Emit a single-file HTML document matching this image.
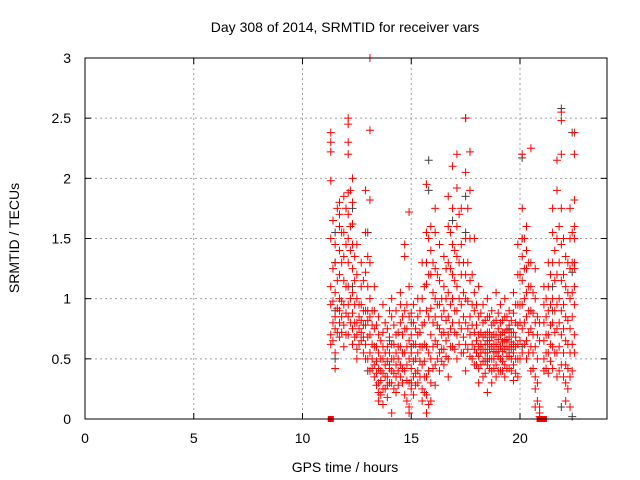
<!DOCTYPE html>
<html><head><meta charset="utf-8"><style>
body{margin:0;background:#fff}
svg{display:block;font-family:"Liberation Sans",sans-serif}
</style></head><body>
<svg id="chart" width="640" height="480" viewBox="0 0 640 480" xmlns="http://www.w3.org/2000/svg">
<rect width="640" height="480" fill="#fff"/>
<text x="345" y="32" font-size="14" text-anchor="middle">Day 308 of 2014, SRMTID for receiver vars</text>
<text transform="translate(19,238) rotate(-90)" font-size="14" text-anchor="middle">SRMTID / TECUs</text>
<text x="345" y="472" font-size="14" text-anchor="middle">GPS time / hours</text>
<g id="grid"></g>
<g id="ticks"></g>
<g id="marks"></g>
<rect x="85" y="58" width="522" height="361" fill="none" stroke="#000" stroke-width="1"/>
</svg>
<script>
const xTicks=[0,5,10,15,20];
const yTicks=[0,0.5,1,1.5,2,2.5,3];
const yTickLabels=["0","0.5","1","1.5","2","2.5","3"];
const redTimes=[11.3,11.5,11.7,11.9,12.1,12.3,12.5,12.7,12.9,13.1,13.3,13.5,13.7,13.9,14.1,14.3,14.5,14.7,14.9,15.1,15.3,15.5,15.7,15.9,16.1,16.3,16.5,16.7,16.9,17.1,17.3,17.5,17.7,17.9,18.1,18.3,18.5,18.7,18.9,19.1,19.3,19.5,19.7,19.9,20.1,20.3,20.5,20.7,20.9,21.1,21.3,21.5,21.7,21.9,22.1,22.3,22.5];
const redValues=[
[2.38,2.3,2.22,1.98,1.5,1.1,0.95,0.7,0.62],
[1.45,1.3,1.05,0.85,0.75,0.55,0.42],
[1.8,1.7,1.6,1.4,1.2,1.0,0.9,0.8,0.68],
[1.85,1.55,1.35,1.15,0.95,0.78,0.6],
[2.5,2.45,2.3,2.2,1.88,1.7,1.5,1.3,1.1,0.95,0.85,0.7],
[2.0,1.8,1.62,1.45,1.25,1.05,0.88,0.75,0.62],
[1.45,1.2,1.0,0.8,0.7,0.58,0.5],
[1.3,1.1,0.95,0.82,0.72,0.65],
[1.9,1.55,1.22,0.9,0.78,0.62,0.5],
[3.0,2.4,1.82,1.3,1.0,0.85,0.7,0.55,0.4],
[1.1,0.9,0.75,0.6,0.45,0.35],
[0.85,0.7,0.55,0.42,0.3,0.22,0.15],
[0.95,0.72,0.6,0.5,0.38,0.25,0.12],
[0.75,0.6,0.48,0.35,0.28,0.18],
[1.0,0.85,0.62,0.5,0.4,0.3,0.05],
[0.9,0.7,0.55,0.45,0.35,0.22],
[1.05,0.95,0.8,0.6,0.45,0.35],
[1.45,1.35,0.9,0.75,0.55,0.4,0.2],
[1.72,1.1,0.85,0.65,0.5,0.3,0.1,0.05],
[0.95,0.8,0.62,0.48,0.35,0.2],
[1.0,0.85,0.7,0.55,0.4,0.3],
[1.3,1.0,0.78,0.6,0.45,0.25,0.15],
[1.95,1.55,1.3,1.12,0.9,0.6,0.35,0.2,0.05],
[1.6,1.4,1.2,0.92,0.7,0.5,0.3,0.15],
[1.75,1.55,1.25,1.0,0.85,0.65,0.45,0.28],
[1.45,1.15,0.95,0.75,0.55,0.4],
[1.35,1.1,0.9,0.72,0.58,0.45],
[1.85,1.6,1.3,1.05,0.85,0.7,0.5,0.35],
[2.1,1.75,1.45,1.2,1.0,0.8,0.6],
[2.2,1.92,1.6,1.35,1.1,0.9,0.7,0.5],
[1.75,1.45,1.2,0.95,0.75,0.55],
[2.5,2.05,1.5,1.2,1.0,0.8,0.62,0.4],
[2.22,1.9,1.5,1.15,0.85,0.7,0.52],
[1.5,1.05,0.9,0.72,0.58,0.45],
[1.1,0.85,0.7,0.6,0.52,0.42,0.3],
[0.95,0.8,0.68,0.58,0.48,0.35],
[1.0,0.85,0.72,0.62,0.55,0.45,0.22],
[0.9,0.78,0.68,0.6,0.5,0.4,0.3],
[1.05,0.82,0.7,0.62,0.55,0.45,0.35],
[0.95,0.8,0.7,0.6,0.5,0.4],
[1.0,0.85,0.72,0.65,0.58,0.45,0.35],
[0.9,0.78,0.68,0.6,0.52,0.42],
[1.05,0.88,0.72,0.62,0.55,0.45,0.32],
[1.45,1.2,0.95,0.78,0.62,0.5,0.35],
[2.2,1.75,1.5,1.35,1.15,0.95,0.75,0.55],
[1.6,1.4,1.25,1.05,0.85,0.65,0.5],
[2.25,1.3,1.1,0.9,0.75,0.6,0.4],
[1.25,1.0,0.8,0.6,0.35,0.25,0.1],
[0.1,0.05,0.02,0.8,0.65],
[1.1,0.95,0.8,0.65,0.5,0.4],
[1.3,1.1,0.9,0.7,0.55,0.38],
[1.75,1.55,1.3,1.0,0.8,0.6,0.42],
[2.15,1.9,1.5,1.2,0.95,0.75,0.55,0.35],
[2.55,2.48,2.2,1.75,1.45,1.15,0.9,0.7,0.45],
[1.35,1.1,0.85,0.65,0.45,0.3,0.15],
[1.75,1.5,1.25,1.0,0.75,0.55,0.35,0.1],
[2.38,2.2,1.82,1.6,1.5,1.3,1.25,1.1,0.95,0.7,0.55]
];
const redTimes2=[11.4,11.6,11.8,12.0,12.2,12.4,12.6,12.8,13.0,13.2,13.4,13.6,13.8,14.0,14.2,14.4,14.6,14.8,15.0,15.2,15.4,15.6,15.8,16.0,16.2,16.4,16.6,16.8,17.0,17.2,17.4,17.6,17.8,18.0,18.2,18.4,18.6,18.8,19.0,19.2,19.4,19.6,19.8,20.0,20.2,20.4,20.6,20.8,21.2,21.4,21.6,21.8,22.0,22.2,22.4];
const redValues2=[
[1.65,1.25,0.98,0.8,0.65],[1.75,1.15,0.92,0.72],[1.55,1.3,0.98,0.85,0.72],[1.75,1.45,1.1,0.88,0.7],
[1.9,1.6,1.4,1.0,0.8],[1.35,1.15,0.95,0.8,0.68],[0.95,0.85,0.75,0.62],[1.15,0.9,0.78,0.68,0.55],
[1.35,1.1,0.82,0.68,0.5],[0.9,0.78,0.62,0.5,0.42],[0.78,0.6,0.48,0.38,0.28],[0.65,0.5,0.4,0.32,0.2],
[0.8,0.55,0.45,0.35,0.25],[0.9,0.68,0.55,0.42,0.3],[0.78,0.62,0.5,0.38,0.25],[0.72,0.6,0.5,0.4,0.28],
[0.85,0.7,0.55,0.42,0.3],[0.95,0.75,0.6,0.45,0.32,0.15],[0.88,0.7,0.55,0.42,0.25],[0.75,0.62,0.5,0.38,0.28],
[0.9,0.72,0.6,0.48,0.35],[1.1,0.8,0.62,0.48,0.35,0.22],[1.5,1.2,0.85,0.55,0.4,0.12],[1.3,1.05,0.8,0.6,0.42],
[1.2,0.95,0.78,0.62,0.5],[1.0,0.85,0.7,0.58,0.48],[1.25,1.0,0.82,0.65,0.52],[1.55,1.25,0.95,0.75,0.6],
[1.4,1.15,0.9,0.72,0.58],[1.7,1.3,1.0,0.8,0.62],[1.3,1.05,0.85,0.68,0.55],[1.75,1.3,0.98,0.75,0.58],
[1.2,0.95,0.78,0.62,0.5],[0.95,0.78,0.65,0.55,0.45],[0.88,0.72,0.62,0.55,0.45],[0.82,0.7,0.62,0.55,0.48,0.38],
[0.85,0.72,0.65,0.58,0.5,0.42],[0.8,0.7,0.62,0.56,0.5,0.42],[0.88,0.75,0.66,0.58,0.52,0.4],[0.82,0.72,0.64,0.56,0.48,0.4],
[0.85,0.74,0.66,0.6,0.52,0.42],[0.82,0.72,0.64,0.58,0.5,0.4],[0.95,0.8,0.68,0.6,0.5,0.38],[1.2,0.95,0.8,0.65,0.5],
[1.5,1.25,1.0,0.8,0.62],[1.3,1.1,0.9,0.72,0.55],[1.05,0.88,0.7,0.55,0.42],[0.85,0.7,0.5,0.3,0.15],
[1.0,0.85,0.7,0.55,0.42],[1.2,0.95,0.78,0.62,0.48],[1.4,1.15,0.9,0.72,0.55],[1.6,1.3,1.0,0.8,0.6,0.4],
[1.5,1.2,0.95,0.75,0.55,0.35],[1.3,1.05,0.82,0.62,0.42,0.25],[1.55,1.3,1.05,0.85,0.62,0.4]
];
const blackTimes=[11.5,12.3,13.0,14.0,15.0,15.8,16.9,17.5,18.5,19.5,20.1,21.5,21.9,22.4];
const blackValues=[[1.55,1.3,0.9,0.5],[1.75,1.1],[1.55,0.9,0.4],[0.65,0.45],[0.8,0.3,0.6],[2.15,1.9,0.4],[1.65,1.0],[2.5,1.55,1.85],[0.65,0.5],[0.75,0.55],[2.17,1.5,0.6],[0.9,1.1],[2.58,0.1],[2.38,1.22,0.02]];
const zeroTimes=[11.3,20.9,21.0,21.1];

const NS="http://www.w3.org/2000/svg";
const X0=85,X1=607,Y0=419,Y1=58;
function sx(t){return X0+(t/24)*(X1-X0);}
function sy(v){return Y0-(v/3)*(Y0-Y1);}
function mk(tag,attrs,parent){const e=document.createElementNS(NS,tag);for(const k in attrs)e.setAttribute(k,attrs[k]);parent.appendChild(e);return e;}
const grid=document.getElementById('grid'),ticks=document.getElementById('ticks'),marks=document.getElementById('marks');
xTicks.forEach(t=>{
  const x=sx(t);
  if(t>0){const g=mk('line',{x1:x,x2:x,y1:Y1,y2:Y0,stroke:'#a0a0a0','stroke-dasharray':'2,3'},grid);
  
  }
  mk('line',{x1:x,x2:x,y1:Y0,y2:Y0-6,stroke:'#000'},ticks);
  mk('line',{x1:x,x2:x,y1:Y1,y2:Y1+6,stroke:'#000'},ticks);
  const l=mk('text',{x:x,y:443,'font-size':14,'text-anchor':'middle'},ticks);
  l.textContent=String(t);
  
  
});
yTicks.forEach((v,i)=>{
  const y=sy(v);
  if(v>0&&v<3){const g=mk('line',{x1:X0,x2:X1,y1:y,y2:y,stroke:'#a0a0a0','stroke-dasharray':'2,3'},grid);
  
  }
  mk('line',{x1:X0,x2:X0+6,y1:y,y2:y,stroke:'#000'},ticks);
  mk('line',{x1:X1,x2:X1-6,y1:y,y2:y,stroke:'#000'},ticks);
  const l=mk('text',{x:71,y:y+5,'font-size':14,'text-anchor':'end'},ticks);
  l.textContent=yTickLabels[i];
  
  
});
function plus(t,v,color,name){
  const x=sx(t),y=sy(v);
  const p=mk('path',{d:`M${x-4},${y}H${x+4}M${x},${y-4}V${y+4}`,stroke:color,'stroke-width':1,fill:'none'},marks);
  
  
}
blackTimes.forEach((t,i)=>blackValues[i].forEach(v=>plus(t,v,'#404040','black-point')));
redTimes.forEach((t,i)=>redValues[i].forEach(v=>plus(t,v,'#ff0000','red-point')));
redTimes2.forEach((t,i)=>redValues2[i].forEach(v=>plus(t,v,'#ff0000','red-point')));
zeroTimes.forEach(t=>{
  const r=mk('rect',{x:sx(t)-3,y:Y0-3,width:6,height:6,fill:'#ff0000'},marks);
  
  
});
</script>
</body></html>
